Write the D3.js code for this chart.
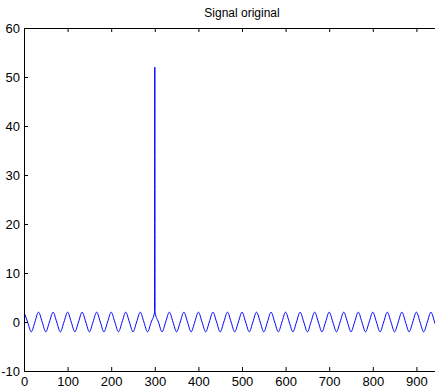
<!DOCTYPE html>
<html>
<head>
<meta charset="utf-8">
<script src="https://cdn.jsdelivr.net/npm/d3@7"></script>
<style>
  body { margin: 0; background: #fff; }
  svg { display: block; }
  text { font-family: "Liberation Sans", Arial, sans-serif; }
</style>
</head>
<body>
<div id="chart"></div>
<script>
// signal samples (peaks, zero crossings, troughs + the spike at 300)
const sampleX = [
  0, 8.3, 16.7, 25, 33.3, 41.7, 50, 58.3, 66.7, 75, 83.3, 91.7,
  100, 108.3, 116.7, 125, 133.3, 141.7, 150, 158.3, 166.7, 175, 183.3, 191.7,
  200, 208.3, 216.7, 225, 233.3, 241.7, 250, 258.3, 266.7, 275, 283.3, 291.7,
  299.5, 300, 300.5, 308.3, 316.7, 325, 333.3, 341.7, 350, 358.3, 366.7, 375, 383.3, 391.7,
  400, 408.3, 416.7, 425, 433.3, 441.7, 450, 458.3, 466.7, 475, 483.3, 491.7,
  500, 508.3, 516.7, 525, 533.3, 541.7, 550, 558.3, 566.7, 575, 583.3, 591.7,
  600, 608.3, 616.7, 625, 633.3, 641.7, 650, 658.3, 666.7, 675, 683.3, 691.7,
  700, 708.3, 716.7, 725, 733.3, 741.7, 750, 758.3, 766.7, 775, 783.3, 791.7,
  800, 808.3, 816.7, 825, 833.3, 841.7, 850, 858.3, 866.7, 875, 883.3, 891.7,
  900, 908.3, 916.7, 925, 933.3, 941.7, 950, 958.3, 966.7, 975, 983.3, 991.7,
  1000
]
const sampleY = [
  2, 0, -2, 0, 2, 0, -2, 0, 2, 0, -2, 0,
  2, 0, -2, 0, 2, 0, -2, 0, 2, 0, -2, 0,
  2, 0, -2, 0, 2, 0, -2, 0, 2, 0, -2, 0,
  2, 52, 2, 0, -2, 0, 2, 0, -2, 0, 2, 0, -2, 0,
  2, 0, -2, 0, 2, 0, -2, 0, 2, 0, -2, 0,
  2, 0, -2, 0, 2, 0, -2, 0, 2, 0, -2, 0,
  2, 0, -2, 0, 2, 0, -2, 0, 2, 0, -2, 0,
  2, 0, -2, 0, 2, 0, -2, 0, 2, 0, -2, 0,
  2, 0, -2, 0, 2, 0, -2, 0, 2, 0, -2, 0,
  2, 0, -2, 0, 2, 0, -2, 0, 2, 0, -2, 0,
  2
]
const xTicks = [0, 100, 200, 300, 400, 500, 600, 700, 800, 900]
const yTicks = [-10, 0, 10, 20, 30, 40, 50, 60]
const title = "Signal original"

let width = 435, height = 388
let mLeft = 24, mTop = 28, plotW = 436, plotH = 343

let svg = d3.select("#chart").append("svg")
    .attr("width", width)
    .attr("height", height)

// x runs to 1000, the right part of the box falls outside the picture
let x = d3.scaleLinear().domain([0, 1000]).range([mLeft, mLeft + plotW])
let y = d3.scaleLinear().domain([-10, 60]).range([mTop + plotH, mTop])

svg.append("clipPath").attr("id", "clip")
    .append("rect")
    .attr("x", mLeft).attr("y", mTop)
    .attr("width", plotW).attr("height", plotH)

let data = sampleX.map((d, i) => ({ x: d, y: sampleY[i] }))

let line = d3.line()
    .x(d => x(d.x))
    .y(d => y(d.y))
    .curve(d3.curveMonotoneX)

svg.append("path")
    .datum(data)
    .attr("clip-path", "url(#clip)")
    .attr("fill", "none")
    .attr("stroke", "#0000ff")
    .attr("stroke-width", 1)
    .attr("d", line)

// axes, ticks point inward like matlab, plain hyphen for negatives
let plain = d => String(d)

function styleAxis(g) {
  g.selectAll("path").attr("stroke", "#000")
  g.selectAll("line").attr("stroke", "#000")
  g.selectAll("text").attr("fill", "#000").style("font-size", "13px")
}

svg.append("g")
    .attr("transform", "translate(0," + (mTop + plotH) + ")")
    .call(d3.axisBottom(x).tickValues(xTicks).tickFormat(plain).tickSizeInner(-4).tickSizeOuter(0).tickPadding(6))
    .call(styleAxis)

svg.append("g")
    .attr("transform", "translate(0," + mTop + ")")
    .call(d3.axisTop(x).tickValues(xTicks).tickSizeInner(-4).tickSizeOuter(0).tickFormat(""))
    .call(styleAxis)

svg.append("g")
    .attr("transform", "translate(" + mLeft + ",0)")
    .call(d3.axisLeft(y).tickValues(yTicks).tickFormat(plain).tickSizeInner(-4).tickSizeOuter(0).tickPadding(4))
    .call(styleAxis)

svg.append("text")
    .attr("x", mLeft + plotW / 2)
    .attr("y", 17)
    .attr("text-anchor", "middle")
    .style("font-size", "12px")
    .text(title)
</script>
</body>
</html>
